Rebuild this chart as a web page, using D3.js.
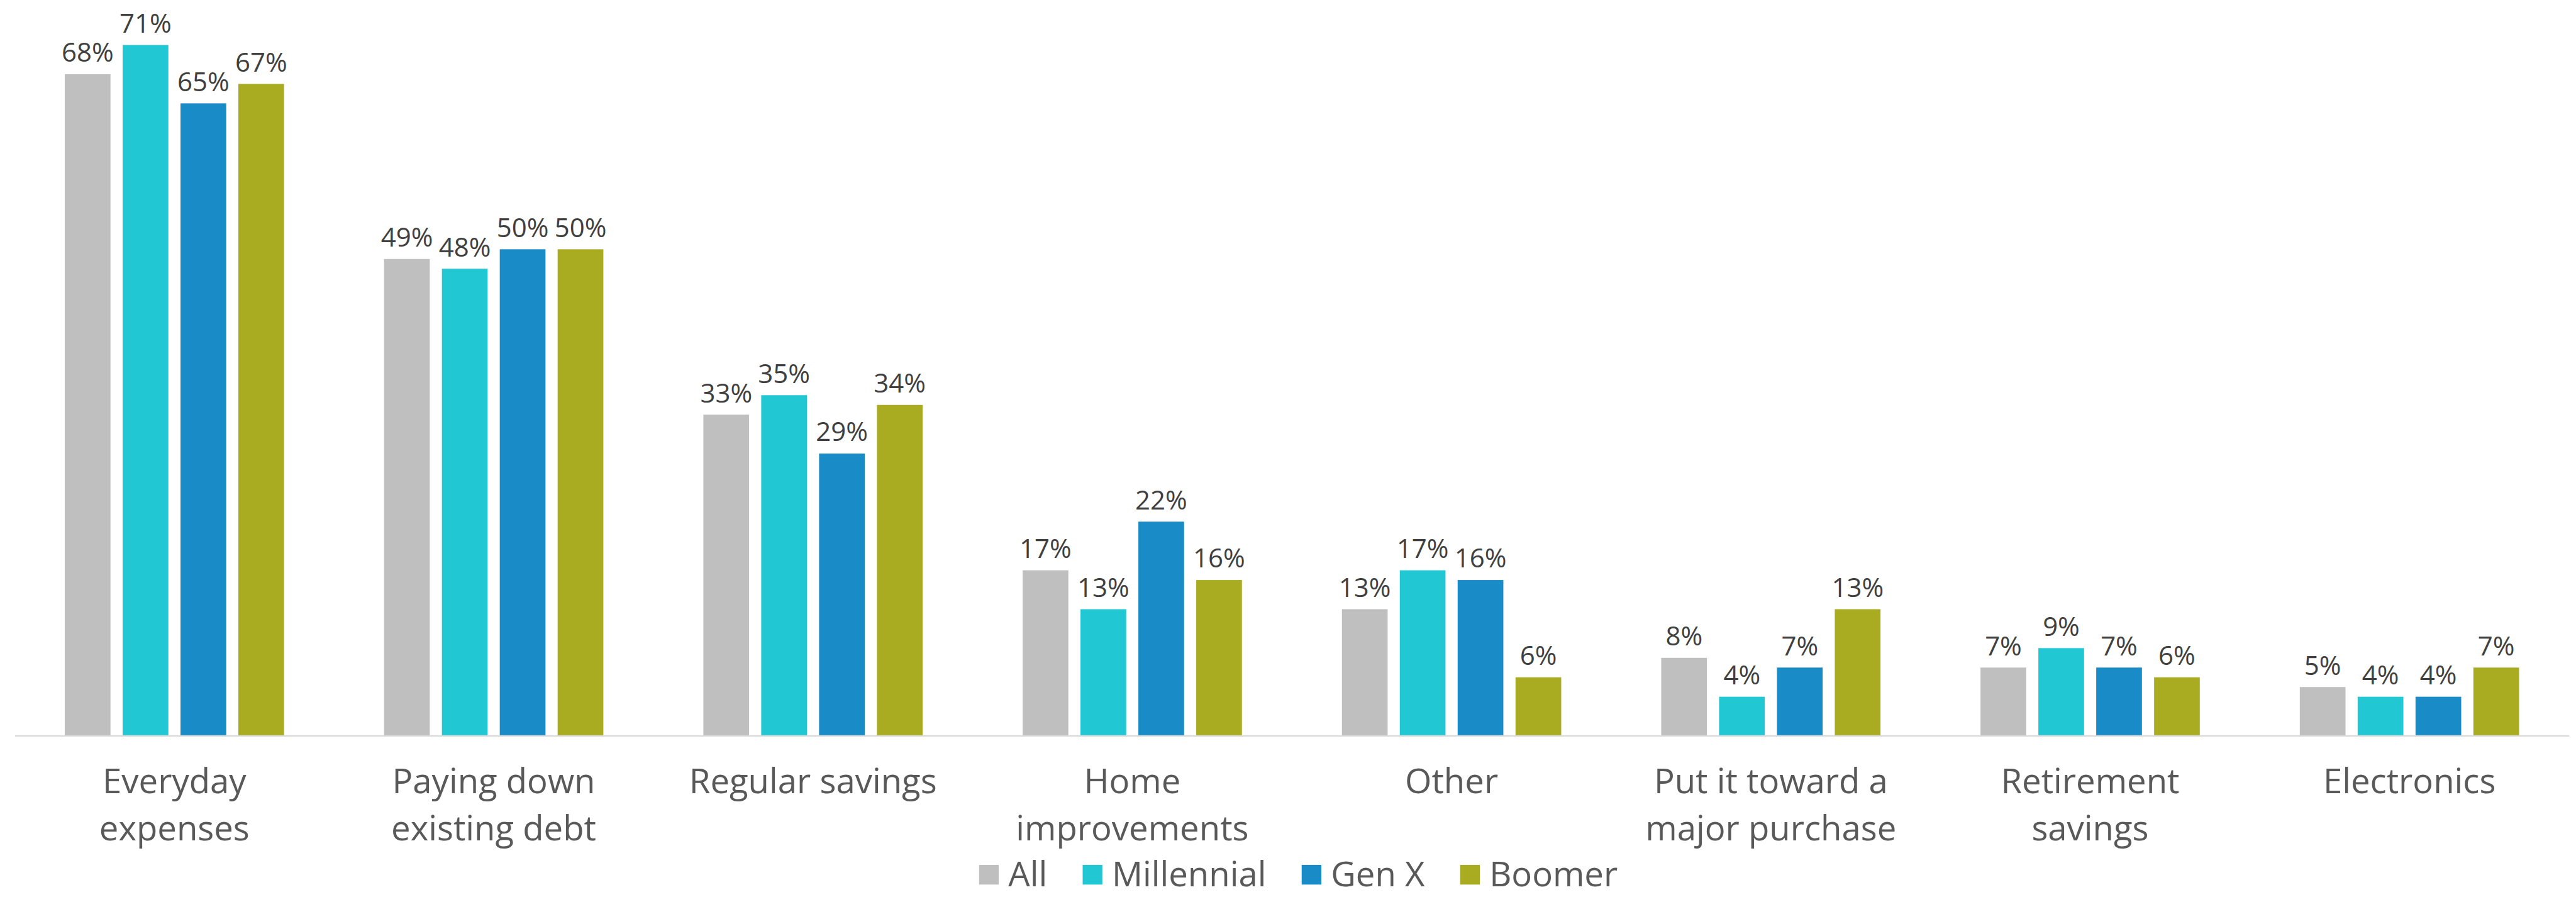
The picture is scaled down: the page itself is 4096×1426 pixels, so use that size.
<!DOCTYPE html>
<html>
<head>
<meta charset="utf-8">
<script src="https://cdn.jsdelivr.net/npm/d3@7/dist/d3.min.js"></script>
<style>
  html, body { margin: 0; padding: 0; background: #ffffff; overflow: hidden; }
  svg { display: block; }
  text { font-family: "Century Gothic", "Open Sans", sans-serif; }
</style>
</head>
<body>
<svg id="chart"></svg>
<script>
// Share of respondents by intended use, per generation
const categories = [
  "Everyday expenses",
  "Paying down existing debt",
  "Regular savings",
  "Home improvements",
  "Other",
  "Put it toward a major purchase",
  "Retirement savings",
  "Electronics"
];
// Category tick labels, broken into lines
const tickLabels = [
  ["Everyday", "expenses"],
  ["Paying down", "existing debt"],
  ["Regular savings"],
  ["Home", "improvements"],
  ["Other"],
  ["Put it toward a", "major purchase"],
  ["Retirement", "savings"],
  ["Electronics"]
];
const seriesNames = ["All", "Millennial", "Gen X", "Boomer"];
const allValues        = [68, 49, 33, 17, 13, 8, 7, 5];
const millennialValues = [71, 48, 35, 13, 17, 4, 9, 4];
const genXValues       = [65, 50, 29, 22, 16, 7, 7, 4];
const boomerValues     = [67, 50, 34, 16, 6, 13, 6, 7];
const seriesColors = ["#BFBFBF", "#21C8D4", "#198BC7", "#A9AB21"];

const seriesValues = [allValues, millennialValues, genXValues, boomerValues];

// Drawing space (scaled to the window via viewBox)
const W = 4585, H = 1596;
const svg = d3.select("#chart")
  .attr("width", 4096)
  .attr("height", 1426)
  .attr("viewBox", `0 0 ${W} ${H}`);

const plotLeft = 26.3, plotRight = 4572.7, baseY = 1309;
const pxPerPoint = 17.31;

const x0 = d3.scaleBand().domain(categories).range([plotLeft, plotRight]).padding(0);
const groupWidth = 390.3;
const x1 = d3.scaleBand().domain(seriesNames).range([0, groupWidth])
  .paddingInner(0.21).paddingOuter(0);
const y = d3.scaleLinear().domain([0, 80]).range([baseY, baseY - 80 * pxPerPoint]);
const color = d3.scaleOrdinal().domain(seriesNames).range(seriesColors);

const rows = categories.map((c, i) => ({
  category: c,
  values: seriesNames.map((s, j) => ({ series: s, value: seriesValues[j][i] }))
}));

const groups = svg.append("g").selectAll("g")
  .data(rows)
  .join("g")
  .attr("transform", d => `translate(${x0(d.category) + (x0.bandwidth() - groupWidth) / 2},0)`);

groups.selectAll("rect")
  .data(d => d.values)
  .join("rect")
  .attr("x", d => x1(d.series))
  .attr("y", d => y(d.value))
  .attr("width", x1.bandwidth())
  .attr("height", d => y(0) - y(d.value))
  .attr("fill", d => color(d.series));

groups.selectAll("text.val")
  .data(d => d.values)
  .join("text")
  .attr("class", "val")
  .attr("x", d => x1(d.series) + x1.bandwidth() / 2)
  .attr("y", d => y(d.value) - 22)
  .attr("text-anchor", "middle")
  .attr("font-size", 47)
  .attr("fill", "#404040")
  .text(d => d.value + "%");

// Category axis
const xAxis = d3.axisBottom(x0).tickSize(0).tickSizeOuter(0).tickFormat("");
const axisG = svg.append("g")
  .attr("transform", `translate(0,${baseY})`)
  .call(xAxis);
axisG.select(".domain").attr("stroke", "#D9D9D9").attr("stroke-width", 2.5);

axisG.selectAll(".tick").each(function(d, i) {
  const tick = d3.select(this);
  tickLabels[i].forEach((line, k) => {
    tick.append("text")
      .attr("x", 0)
      .attr("y", 102 + k * 84)
      .attr("text-anchor", "middle")
      .attr("font-size", 61)
      .attr("fill", "#595959")
      .text(line);
  });
});

// Legend
const legend = svg.append("g");
const items = legend.selectAll("g").data(seriesNames).join("g");
items.append("rect")
  .attr("width", 35).attr("height", 35)
  .attr("y", 1539)
  .attr("fill", d => color(d));
items.append("text")
  .attr("x", 52).attr("y", 1577)
  .attr("font-size", 61)
  .attr("fill", "#595959")
  .text(d => d);
let cursor = 0;
const offsets = [];
items.each(function() {
  offsets.push(cursor);
  const w = d3.select(this).select("text").node().getComputedTextLength();
  cursor += 52 + w + 63;
});
const total = cursor - 63;
const legendStart = 2311 - total / 2;
items.attr("transform", (d, i) => `translate(${legendStart + offsets[i]},0)`);
</script>
</body>
</html>
